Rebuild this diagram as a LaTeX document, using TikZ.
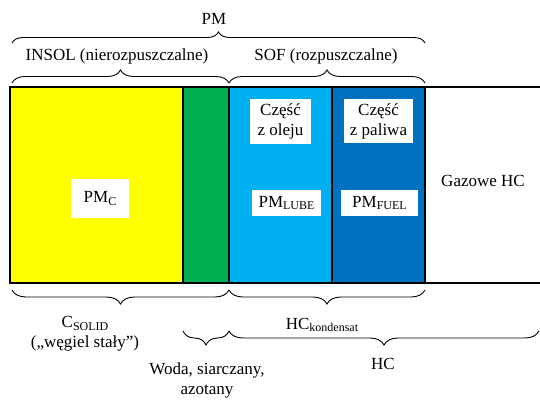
\documentclass[tikz,border=0pt]{standalone}
\usepackage{fontspec}
\setmainfont{Liberation Serif}
\newfontfamily\tnr{Liberation Serif}
\usetikzlibrary{decorations.pathreplacing}
\definecolor{cyel}{HTML}{FFFF00}
\definecolor{cgrn}{HTML}{00B050}
\definecolor{clbl}{HTML}{00B0F0}
\definecolor{cdbl}{HTML}{0070C0}
\newcommand{\sbs}[1]{\raisebox{-0.3ex}{\fontsize{12}{12}\selectfont #1}}
\tikzset{
  txt/.style={font=\tnr\fontsize{17}{20}\selectfont, inner sep=0pt, align=center},
  wbox/.style={txt, fill=white, minimum width=#1},
  brc/.style={decorate, decoration={brace, amplitude=#1}, line width=0.9pt},
  seg/.style={draw=black, line width=1.2pt},
}
\begin{document}
\begin{tikzpicture}[x=1pt,y=-1pt]
\useasboundingbox (0,0) rectangle (540,405);
% segments
\fill[cyel] (10,87) rectangle (183,283);
\fill[cgrn] (183,87) rectangle (229,283);
\fill[clbl] (229,87) rectangle (332,283);
\fill[cdbl] (332,87) rectangle (425,283);
\draw[seg] (540,87) -- (10,87) -- (10,283) -- (540,283);
\draw[seg] (183,87) -- (183,283);
\draw[seg] (229,87) -- (229,283);
\draw[seg] (332,87) -- (332,283);
\draw[seg] (425,87) -- (425,283);
% top braces
\draw[brc=11] (12,43) -- (425,43);
\draw[brc=13] (12,83) -- (229,83);
\draw[brc=13] (229,83) -- (425,83);
% bottom braces
\draw[brc=14] (229,290) -- (12,290);
\draw[brc=14] (425,290) -- (229,290);
\draw[brc=14] (229,331) -- (183,331);
\draw[brc=14] (539,331) -- (229,331);
% labels
\node[txt] (pm) at (214,19) {PM};
\node[txt] (insol) at (117,56) {INSOL (nierozpuszczalne)};
\node[txt] (sof) at (326,56) {SOF (rozpuszczalne)};
\node[wbox=58pt, minimum height=39pt] (pmc) at (100,198.5) {PM\sbs{C}};
\node[wbox=61pt, minimum height=45pt] (olej) at (280.5,121.5) {Część\\z oleju};
\node[wbox=69pt, minimum height=44pt] (paliwo) at (378.5,121) {Część\\z paliwa};
\node[wbox=69pt, minimum height=26pt] (lube) at (286.5,203) {PM\sbs{LUBE}};
\node[wbox=77pt, minimum height=26pt] (fuel) at (379.5,203) {PM\sbs{FUEL}};
\node[txt] (gaz) at (483,181) {Gazowe HC};
\node[txt] (csolid) at (85,334) {C\sbs{SOLID}\\(„węgiel stały”)};
\node[txt] (hck) at (322,325) {HC\sbs{kondensat}};
\node[txt] (woda) at (207,380) {Woda, siarczany,\\azotany};
\node[txt] (hc) at (383,364) {HC};
\end{tikzpicture}
\end{document}
